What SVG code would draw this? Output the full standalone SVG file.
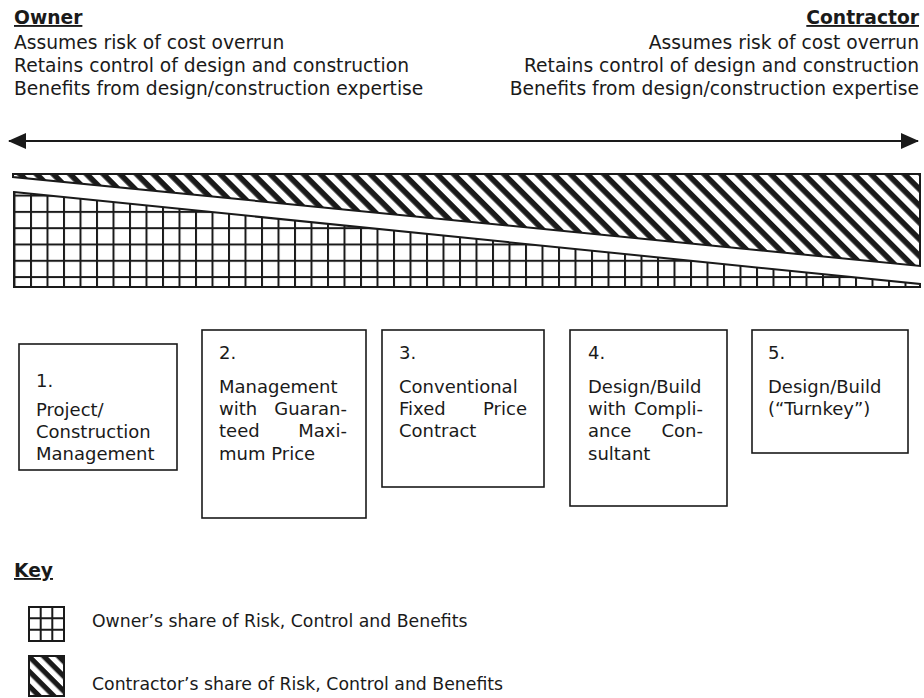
<svg xmlns="http://www.w3.org/2000/svg" width="924" height="698" viewBox="0 0 924 698">
<style>
  text { font-family: "DejaVu Sans", Verdana, sans-serif; fill: #1a1a1a; }
  .hdr { font-size: 18.7px; }
  .bold { font-weight: bold; text-decoration: underline; }
  .bx { font-size: 18px; }
  .kt { font-size: 17.3px; }
  .box { fill: #fff; stroke: #1a1a1a; stroke-width: 1.6; }
  .edge { fill: none; stroke: #1a1a1a; stroke-width: 2; }
</style>
<defs>
  <pattern id="hatch" patternUnits="userSpaceOnUse" width="11.8" height="11.8" patternTransform="rotate(45)">
    <rect x="0" y="0" width="11.8" height="5.6" fill="#1a1a1a"/>
  </pattern>
  <pattern id="hatch2" patternUnits="userSpaceOnUse" width="10.5" height="10.5" patternTransform="rotate(45)">
    <rect x="0" y="0" width="10.5" height="5.2" fill="#1a1a1a"/>
  </pattern>
  <pattern id="grid" patternUnits="userSpaceOnUse" x="13.5" y="194.6" width="16.5" height="16.3">
    <rect x="0" y="0" width="2" height="16.3" fill="#1a1a1a"/>
    <rect x="0" y="0" width="16.5" height="2" fill="#1a1a1a"/>
  </pattern>
  <marker id="ah" viewBox="0 0 18 16" refX="17" refY="8" markerWidth="18" markerHeight="16" markerUnits="userSpaceOnUse" orient="auto-start-reverse">
    <path d="M0,0 L18,8 L0,16 Z" fill="#1a1a1a"/>
  </marker>
</defs>

<g id="owner-header">
  <text class="hdr bold" x="14" y="24">Owner</text>
  <text class="hdr" x="14" y="49">Assumes risk of cost overrun</text>
  <text class="hdr" x="14" y="72">Retains control of design and construction</text>
  <text class="hdr" x="14" y="95">Benefits from design/construction expertise</text>
</g>
<g id="contractor-header" text-anchor="end">
  <text class="hdr bold" x="919" y="24">Contractor</text>
  <text class="hdr" x="919" y="49">Assumes risk of cost overrun</text>
  <text class="hdr" x="919" y="72">Retains control of design and construction</text>
  <text class="hdr" x="919" y="95">Benefits from design/construction expertise</text>
</g>

<g id="connectors">
  <line x1="9" y1="141" x2="918" y2="141" stroke="#1a1a1a" stroke-width="2" marker-start="url(#ah)" marker-end="url(#ah)"/>
</g>

<g id="contractor-share">
  <polygon points="13,174 920,174 920,266 13,177" fill="url(#hatch)"/>
  <polygon class="edge" points="13,174 920,174 920,266 13,177"/>
</g>
<g id="owner-share">
  <polygon points="14,192 920,284 920,287 14,287" fill="url(#grid)"/>
  <polygon class="edge" points="14,192 920,284 920,287 14,287"/>
</g>

<g id="box1">
  <rect class="box" x="19" y="344" width="158" height="126"/>
  <text class="bx" x="36" y="387">1.</text>
  <text class="bx" x="36" y="416">Project/</text>
  <text class="bx" x="36" y="438">Construction</text>
  <text class="bx" x="36" y="460">Management</text>
</g>
<g id="box2">
  <rect class="box" x="202" y="330" width="164" height="188"/>
  <text class="bx" x="219" y="359">2.</text>
  <text class="bx" x="219" y="393">Management</text>
  <text class="bx" x="219" y="415">with</text>
  <text class="bx" x="347" y="415" text-anchor="end">Guaran-</text>
  <text class="bx" x="219" y="437">teed</text>
  <text class="bx" x="347" y="437" text-anchor="end">Maxi-</text>
  <text class="bx" x="219" y="460">mum Price</text>
</g>
<g id="box3">
  <rect class="box" x="382" y="330" width="162" height="157"/>
  <text class="bx" x="399" y="359">3.</text>
  <text class="bx" x="399" y="393">Conventional</text>
  <text class="bx" x="399" y="415">Fixed</text>
  <text class="bx" x="527" y="415" text-anchor="end">Price</text>
  <text class="bx" x="399" y="437">Contract</text>
</g>
<g id="box4">
  <rect class="box" x="570" y="330" width="157" height="176"/>
  <text class="bx" x="588" y="359">4.</text>
  <text class="bx" x="588" y="393">Design/Build</text>
  <text class="bx" x="588" y="415">with</text>
  <text class="bx" x="703" y="415" text-anchor="end">Compli-</text>
  <text class="bx" x="588" y="437">ance</text>
  <text class="bx" x="703" y="437" text-anchor="end">Con-</text>
  <text class="bx" x="588" y="460">sultant</text>
</g>
<g id="box5">
  <rect class="box" x="752" y="330" width="156" height="123"/>
  <text class="bx" x="768" y="359">5.</text>
  <text class="bx" x="768" y="393">Design/Build</text>
  <text class="bx" x="768" y="415">(“Turnkey”)</text>
</g>

<g id="key">
  <text class="hdr bold" x="14" y="577">Key</text>
  <g id="key-owner">
    <rect x="29" y="607" width="35" height="34" fill="#fff" stroke="#1a1a1a" stroke-width="2"/>
    <path d="M40.7,607 V641 M52.3,607 V641 M29,618.3 H64 M29,629.7 H64" stroke="#1a1a1a" stroke-width="2" fill="none"/>
    <text class="kt" x="92" y="627">Owner’s share of Risk, Control and Benefits</text>
  </g>
  <g id="key-contractor">
    <rect x="29" y="656" width="35" height="40" fill="url(#hatch2)" stroke="#1a1a1a" stroke-width="2"/>
    <text class="kt" x="92" y="690">Contractor’s share of Risk, Control and Benefits</text>
  </g>
</g>
</svg>
